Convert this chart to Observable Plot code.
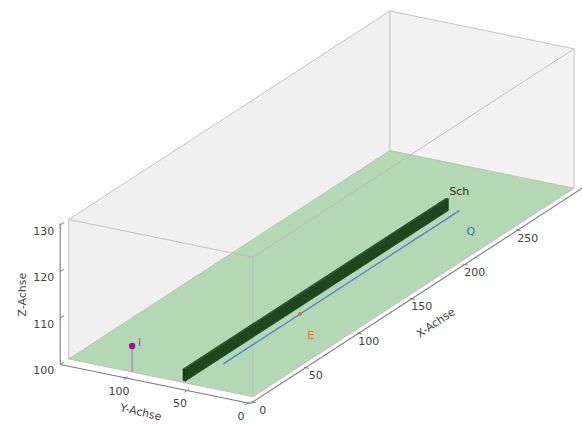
<!DOCTYPE html>
<html><head><meta charset="utf-8">
<script src="https://cdn.jsdelivr.net/npm/d3@7"></script>
<script src="https://cdn.jsdelivr.net/npm/@observablehq/plot@0.6"></script>
<style>body{margin:0;background:#fff;}</style>
</head><body><div id="chart"></div>
<script>
// ---- data ----
const xTicks = [0, 50, 100, 150, 200, 250];
const yTicks = [0, 50, 100];
const zTicks = [100, 110, 120, 130];
const axisX = [-2, 330];
const axisY = [-2, 154];
const axisZ = [100, 130.3];
const roomX = [6, 309];
const roomY = [3, 154];
const roomZ = [100, 130];
const wallX = [8, 256];
const wallY = [60, 62];
const wallZ = [100, 102.5];
const sourceX = [36, 258];
const sourceY = [53, 53];
const sourceZ = [100, 100];
const pointE = [108, 53, 100];
const pointI = [6, 102, 105.6];
const labelNames = ["Sch", "Q", "E", "I"];
const labelX = [264, 238, 87, 12];
const labelY = [58, 26, 26, 101];
const labelZ = [103, 100, 100, 105.6];

// ---- camera (orthographic view of the 3D box) ----
const cam = {ox: 249.7, oy: 401.1, ax: 1.06, ay: -0.688, bx: -1.22, by: -0.25, cz: 4.65, z0: 100};
const pt = (x, y, z, extra = {}) => ({
  sx: cam.ox + cam.ax * x + cam.bx * y,
  sy: cam.oy + cam.ay * x + cam.by * y - cam.cz * (z - cam.z0),
  ...extra
});
const poly = (corners) => corners.map(([x, y, z]) => pt(x, y, z));
const seg = (a, b) => { const p = pt(...a), q = pt(...b); return {x1: p.sx, y1: p.sy, x2: q.sx, y2: q.sy}; };

const [rx0, rx1] = roomX, [ry0, ry1] = roomY, [rz0, rz1] = roomZ;
const paneLeft = poly([[rx0, ry1, rz0], [rx1, ry1, rz0], [rx1, ry1, rz1], [rx0, ry1, rz1]]);
const paneRight = poly([[rx1, ry0, rz0], [rx1, ry1, rz0], [rx1, ry1, rz1], [rx1, ry0, rz1]]);
const floor = poly([[rx0, ry0, rz0], [rx1, ry0, rz0], [rx1, ry1, rz0], [rx0, ry1, rz0]]);
const boxEdges = [];
for (const z of roomZ) {
  boxEdges.push(seg([rx0, ry0, z], [rx1, ry0, z]), seg([rx0, ry1, z], [rx1, ry1, z]),
                seg([rx0, ry0, z], [rx0, ry1, z]), seg([rx1, ry0, z], [rx1, ry1, z]));
}
for (const x of roomX) for (const y of roomY) boxEdges.push(seg([x, y, rz0], [x, y, rz1]));

const [wx0, wx1] = wallX, [wy0, wy1] = wallY, [wz0, wz1] = wallZ;
const wallTop = poly([[wx0, wy0, wz1], [wx1, wy0, wz1], [wx1, wy1, wz1], [wx0, wy1, wz1]]);
const wallSide = poly([[wx0, wy0, wz0], [wx1, wy0, wz0], [wx1, wy0, wz1], [wx0, wy0, wz1]]);
const wallEnd = poly([[wx0, wy0, wz0], [wx0, wy1, wz0], [wx0, wy1, wz1], [wx0, wy0, wz1]]);

const sourceLine = sourceX.map((x, i) => pt(x, sourceY[i], sourceZ[i]));
const eDot = [pt(...pointE)];
const iDot = [pt(...pointI)];
const iStem = [seg([pointI[0], pointI[1], axisZ[0]], pointI)];

const labels = labelNames.map((name, i) => pt(labelX[i], labelY[i], labelZ[i], {name}));
const lab = (n) => labels.filter(d => d.name === n);

// axes
const axisLines = [
  seg([axisX[0], axisY[0], axisZ[0]], [axisX[1], axisY[0], axisZ[0]]),
  seg([axisX[0], axisY[0], axisZ[0]], [axisX[0], axisY[1], axisZ[0]]),
  seg([axisX[0], axisY[1], axisZ[0]], [axisX[0], axisY[1], axisZ[1]])
];
const xTickPts = xTicks.map(t => pt(t, axisY[0], axisZ[0], {t}));
const yTickPts = yTicks.map(t => pt(axisX[0], t, axisZ[0], {t}));
const zTickPts = zTicks.map(t => pt(axisX[0], axisY[1], t, {t}));
const tickMarks = [
  ...xTicks.map(t => seg([t, axisY[0] + 1.5, axisZ[0]], [t, axisY[0] - 2.5, axisZ[0]])),
  ...yTicks.map(t => seg([axisX[0] + 1.5, t, axisZ[0]], [axisX[0] - 2.5, t, axisZ[0]])),
  ...zTicks.map(t => seg([axisX[0], axisY[1], t], [axisX[0] + 3.5, axisY[1], t]))
];

const font = "DejaVu Sans";
const XY = {x: "sx", y: "sy"};
const chart = Plot.plot({
  width: 582, height: 424, margin: 0,
  x: {domain: [0, 582], range: [0, 582], axis: null},
  y: {domain: [0, 424], range: [0, 424], axis: null},
  style: {background: "white", fontFamily: font, fontSize: "11px"},
  marks: [
    Plot.line(paneLeft, {...XY, curve: "linear-closed", fill: "#f0f0f0", stroke: "none"}),
    Plot.line(paneRight, {...XY, curve: "linear-closed", fill: "#f2f2f2", stroke: "none"}),
    Plot.line(floor, {...XY, curve: "linear-closed", fill: "#b4d8b3", stroke: "none"}),
    Plot.link(boxEdges, {x1: "x1", y1: "y1", x2: "x2", y2: "y2", stroke: "#bdbdbd", strokeWidth: 1, strokeOpacity: 0.9}),
    Plot.link(axisLines, {x1: "x1", y1: "y1", x2: "x2", y2: "y2", stroke: "#7a7a7a", strokeWidth: 1.1}),
    Plot.link(tickMarks, {x1: "x1", y1: "y1", x2: "x2", y2: "y2", stroke: "#7a7a7a", strokeWidth: 1}),
    Plot.text(xTickPts, {...XY, text: d => String(d.t), dx: 10, dy: 8, fill: "#444", fontSize: 11}),
    Plot.text(yTickPts, {...XY, text: d => String(d.t), dx: -7, dy: 13, fill: "#444", fontSize: 11}),
    Plot.text(zTickPts, {...XY, text: d => String(d.t), dx: -6, dy: 6, textAnchor: "end", fill: "#444", fontSize: 11}),
    Plot.text([pt(129, -40, 100)], {...XY, text: () => "X-Achse", rotate: -34, fill: "#444", fontSize: 11}),
    Plot.text([pt(-41, 54, 100)], {...XY, text: () => "Y-Achse", rotate: 13, dy: -4, fill: "#444", fontSize: 11}),
    Plot.text([pt(axisX[0], axisY[1], 115)], {...XY, text: () => "Z-Achse", rotate: -90, dx: -38, fill: "#444", fontSize: 11}),
    // wall (Sch)
    Plot.line(wallSide, {...XY, curve: "linear-closed", fill: "#1e471e", stroke: "#173a17", strokeWidth: 0.6}),
    Plot.line(wallTop, {...XY, curve: "linear-closed", fill: "#2a582a", stroke: "#173a17", strokeWidth: 0.6}),
    Plot.line(wallEnd, {...XY, curve: "linear-closed", fill: "#163816", stroke: "#163816", strokeWidth: 0.6}),
    // source line Q
    Plot.line(sourceLine, {...XY, stroke: "#4f80d8", strokeWidth: 1.3}),
    Plot.dot(eDot, {...XY, r: 2, fill: "#e0763a", stroke: null}),
    // receiver I
    Plot.link(iStem, {x1: "x1", y1: "y1", x2: "x2", y2: "y2", stroke: "#b998b9", strokeWidth: 2}),
    Plot.dot(iDot, {...XY, r: 3.2, fill: "#8c1f8c", stroke: null}),
    // labels
    Plot.text(lab("Sch"), {...XY, text: "name", fill: "#1f2f1f", fontSize: 11}),
    Plot.text(lab("Q"), {...XY, text: "name", fill: "#3f6fd0", fontSize: 11}),
    Plot.text(lab("E"), {...XY, text: "name", fill: "#e0763a", fontSize: 11}),
    Plot.text(lab("I"), {...XY, text: "name", fill: "#a050a0", fontSize: 11})
  ]
});
document.getElementById("chart").appendChild(chart);
</script>
</body></html>
